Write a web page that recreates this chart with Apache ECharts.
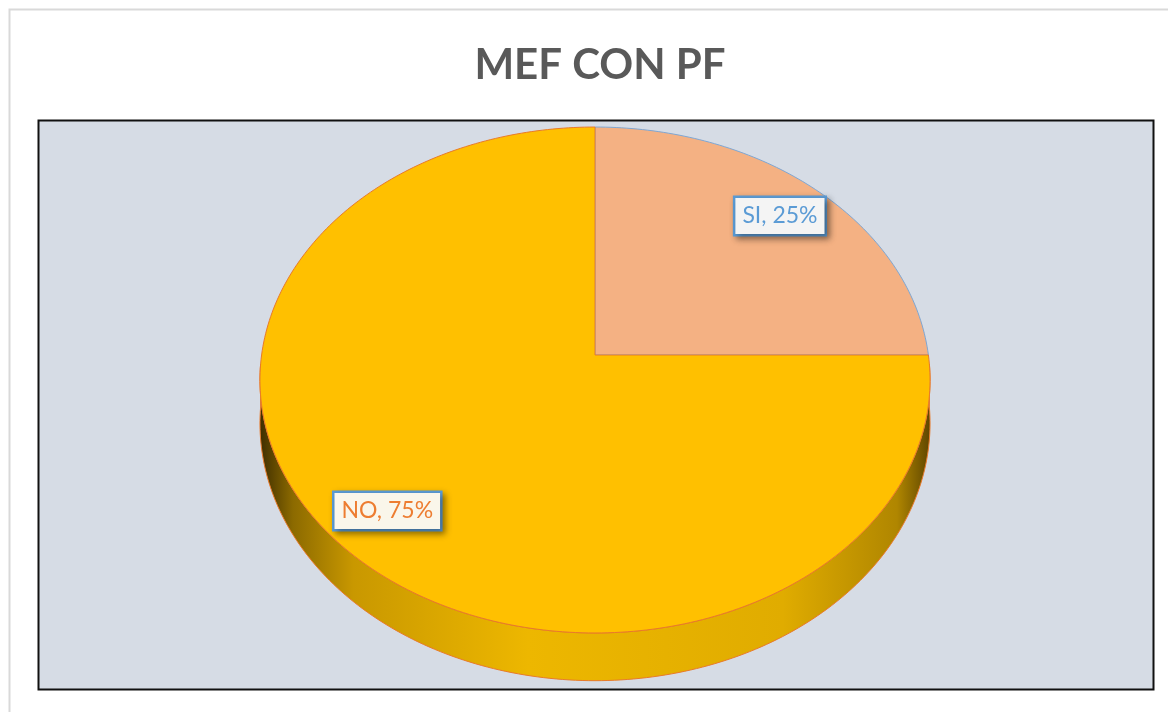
<!DOCTYPE html>
<html>
<head>
<meta charset="utf-8">
<title>MEF CON PF</title>
<script src="https://cdn.jsdelivr.net/npm/echarts@6/dist/echarts.min.js"></script>
<style>
  html, body { margin: 0; padding: 0; background: #fff; }
  #chart { width: 1168px; height: 712px; }
</style>
</head>
<body>
<div id="chart"></div>
<script>
  // datos
  var categories = ['SI', 'NO'];
  var values = [25, 75];

  var sliceColors = ['#F4B183', '#FFC000'];
  var edgeColors = ['#7FA7D3', '#E97A2A'];
  var labelColors = ['#5B9BD5', '#ED7D31'];
  var labelBg = ['#F4F4F4', '#FAF6EA'];

  // pastel 3D en perspectiva
  var cx = 595, cy = 355, rx = 333.4, ry = 250.5, persp = 0.0988, depth = 43;

  var total = values.reduce(function (a, b) { return a + b; }, 0);
  var seriesData = [];
  var acc = 0;
  values.forEach(function (v, i) {
    seriesData.push({ name: categories[i], value: [v, acc] });
    acc += v;
  });

  function project(deg, r, drop) {
    var t = deg * Math.PI / 180;
    var u = r * Math.sin(t), v = -r * Math.cos(t);
    var w = 1 - persp * v;
    return [cx + rx * u / w, cy + ry * v / w + (drop || 0) / w];
  }

  function arc(a0, a1, drop) {
    var pts = [];
    var steps = Math.max(2, Math.ceil(Math.abs(a1 - a0)));
    for (var s = 0; s <= steps; s++) {
      pts.push(project(a0 + (a1 - a0) * s / steps, 1, drop));
    }
    return pts;
  }

  function renderTop(params, api) {
    var i = params.dataIndex;
    var a0 = api.value(1) / total * 360;
    var a1 = (api.value(1) + api.value(0)) / total * 360;
    var pts = [project(0, 0, 0)].concat(arc(a0, a1, 0));
    var mid = (a0 + a1) / 2;
    var lp = project(mid, 0.83, 0);
    return {
      type: 'group',
      children: [{
        type: 'polygon',
        shape: { points: pts },
        style: { fill: sliceColors[i], stroke: edgeColors[i], lineWidth: 1 }
      }, {
        type: 'text',
        x: lp[0],
        y: lp[1],
        z2: 10,
        style: {
          text: categories[i] + ', ' + Math.round(api.value(0) / total * 100) + '%',
          font: '23px Lato, "Noto Sans", sans-serif',
          fill: labelColors[i],
          align: 'center',
          verticalAlign: 'middle',
          backgroundColor: labelBg[i],
          borderColor: '#5B9BD5',
          borderWidth: 2.5,
          padding: [7, 7, 6, 7],
          shadowColor: 'rgba(0,0,0,0.35)',
          shadowBlur: 6,
          shadowOffsetX: 3,
          shadowOffsetY: 3
        }
      }]
    };
  }

  function renderSide(params, api) {
    var a0 = api.value(1) / total * 360;
    var a1 = (api.value(1) + api.value(0)) / total * 360;
    var s0 = Math.max(a0, 92), s1 = Math.min(a1, 268);
    if (s1 <= s0) return null;
    var pts = arc(s0, s1, 0).concat(arc(s1, s0, depth));
    return {
      type: 'polygon',
      shape: { points: pts },
      style: {
        fill: {
          type: 'linear', x: 1, y: 0, x2: 0, y2: 0,
          colorStops: [
            { offset: 0, color: '#5E4500' },
            { offset: 0.05, color: '#B08600' },
            { offset: 0.22, color: '#E0AC00' },
            { offset: 0.6, color: '#EDB700' },
            { offset: 0.86, color: '#C99800' },
            { offset: 0.95, color: '#8C6A00' },
            { offset: 1, color: '#3E2D00' }
          ]
        },
        stroke: '#E97A2A',
        lineWidth: 1
      }
    };
  }

  var chart = echarts.init(document.getElementById('chart'));
  chart.setOption({
    animation: false,
    backgroundColor: '#FFFFFF',
    title: {
      text: 'MEF CON PF',
      left: 595,
      top: 60,
      textAlign: 'center',
      textVerticalAlign: 'middle',
      textStyle: {
        fontFamily: 'Lato, "Open Sans", sans-serif',
        fontWeight: 'bold',
        fontSize: 42,
        color: '#595959'
      }
    },
    graphic: [{
      type: 'rect',
      z: -10,
      shape: { x: 9.5, y: 9.5, width: 1180, height: 720 },
      style: { fill: 'none', stroke: '#D9D9D9', lineWidth: 2 }
    }, {
      type: 'rect',
      z: -10,
      shape: { x: 38.5, y: 120.5, width: 1115, height: 569 },
      style: { fill: '#D6DCE5', stroke: '#111', lineWidth: 2 }
    }],
    series: [{
      type: 'custom',
      coordinateSystem: 'none',
      renderItem: renderSide,
      data: seriesData,
      z: 2
    }, {
      type: 'custom',
      coordinateSystem: 'none',
      renderItem: renderTop,
      data: seriesData,
      z: 3
    }]
  });
</script>
</body>
</html>
